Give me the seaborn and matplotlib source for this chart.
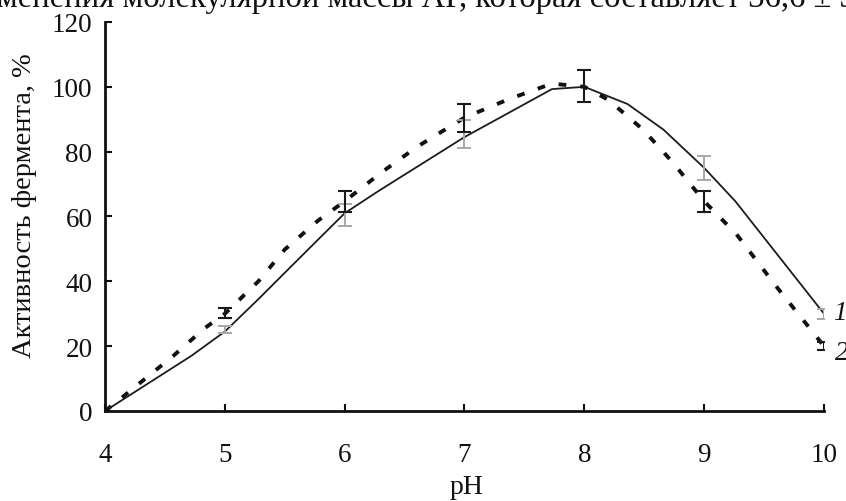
import pandas as pd
import matplotlib
matplotlib.use("Agg")
import matplotlib.pyplot as plt
import seaborn as sns

# -----------------------------
# Data
# -----------------------------
# curve 1 (solid line, grey error bars)
ph_1 = [4, 4.72, 5, 5.28, 5.7, 6, 6.28, 7, 7.73, 8, 8.36, 8.66, 9, 9.26, 10]
act_1 = [0, 17, 24.5, 34.5, 50, 61, 67.8, 84.5, 99.3, 100, 94.7, 86.8, 75, 64.7, 30]

# curve 2 (dashed line, black error bars)
ph_2 = [4, 4.15, 4.57, 4.83, 5.0, 5.28, 5.5, 5.78, 6.0, 6.3, 6.6, 7.0, 7.37, 7.73,
        8.0, 8.2, 8.49, 8.74, 9.0, 9.27, 9.6, 10]
act_2 = [0, 4.4, 17, 25.5, 30, 40, 49.8, 58.8, 64.7, 73.4, 81.4, 90.5, 96.2, 101,
         100, 96, 86.8, 76.6, 64.7, 54.5, 38.5, 20]

# error bars
err_ph_1 = [5, 6, 7, 9, 10]
err_mean_1 = [25.1, 60.5, 85.5, 74.9, 30]
err_sd_1 = [1.1, 3.5, 4.3, 3.7, 1.5]

err_ph_2 = [5, 6, 7, 8, 9, 10]
err_mean_2 = [30.2, 64.7, 90.5, 100.2, 64.6, 20.1]
err_sd_2 = [1.5, 3.3, 4.3, 5.0, 3.2, 1.2]

x_ticks = [4, 5, 6, 7, 8, 9, 10]
y_ticks = [0, 20, 40, 60, 80, 100, 120]

top_text = "менения молекулярной массы АР, которая составляет 36,6 ± 3"
y_label = "Активность фермента, %"
x_label = "pH"

# -----------------------------
# Plot
# -----------------------------
sns.set_theme(style="white")
plt.rcParams["font.family"] = ["Liberation Serif", "DejaVu Serif"]

df1 = pd.DataFrame({"pH": ph_1, "act": act_1})
df2 = pd.DataFrame({"pH": ph_2, "act": act_2})

fig = plt.figure(figsize=(8.46, 5.02), dpi=100)
ax = fig.add_axes([0.1241, 0.1793, 0.8499, 0.7749])

sns.lineplot(data=df1, x="pH", y="act", sort=False, estimator=None,
             color="#1c1c1c", linewidth=1.3, ax=ax)
sns.lineplot(data=df2, x="pH", y="act", sort=False, estimator=None,
             color="#111111", linewidth=2.8, linestyle=(0, (2.0, 3.6)), ax=ax)

ax.errorbar(err_ph_1, err_mean_1, yerr=err_sd_1, fmt="none", ecolor="#a8a8a8",
            elinewidth=1.4, capsize=5, capthick=1.4, zorder=3)
ax.errorbar(err_ph_2, err_mean_2, yerr=err_sd_2, fmt="none", ecolor="#1a1a1a",
            elinewidth=1.5, capsize=5, capthick=1.5, zorder=4)

ax.set_xlim(4, 10)
ax.set_ylim(0, 120)
ax.set_xticks(x_ticks)
ax.set_yticks(y_ticks)
ax.tick_params(axis="both", direction="in", length=5, width=1.5,
               labelsize=19.5, colors="#111111", bottom=True, left=True)
ax.tick_params(axis="x", pad=22)
ax.tick_params(axis="y", pad=9)

for side in ["top", "right"]:
    ax.spines[side].set_visible(False)
for side in ["left", "bottom"]:
    ax.spines[side].set_linewidth(2)
    ax.spines[side].set_color("#111111")

ax.set_xlabel(x_label, fontsize=20, color="#111111")
ax.set_ylabel(y_label, fontsize=20.5, color="#111111")
ax.xaxis.set_label_coords(0.503, -0.163)
ax.yaxis.set_label_coords(-0.095, 0.53)

# curve numbers at the right end
ax.text(10.13, 30.5, "1", fontsize=19.5, style="italic", ha="center", va="center",
        clip_on=False, color="#111111")
ax.text(10.15, 18.0, "2", fontsize=19.5, style="italic", ha="center", va="center",
        clip_on=False, color="#111111")

# cut-off line of page text above the figure
fig.text(-0.004, 1 - 7 / 502, top_text, fontsize=23.5, ha="left", va="baseline",
         color="#111111")

fig.savefig("out.png", dpi=100)
